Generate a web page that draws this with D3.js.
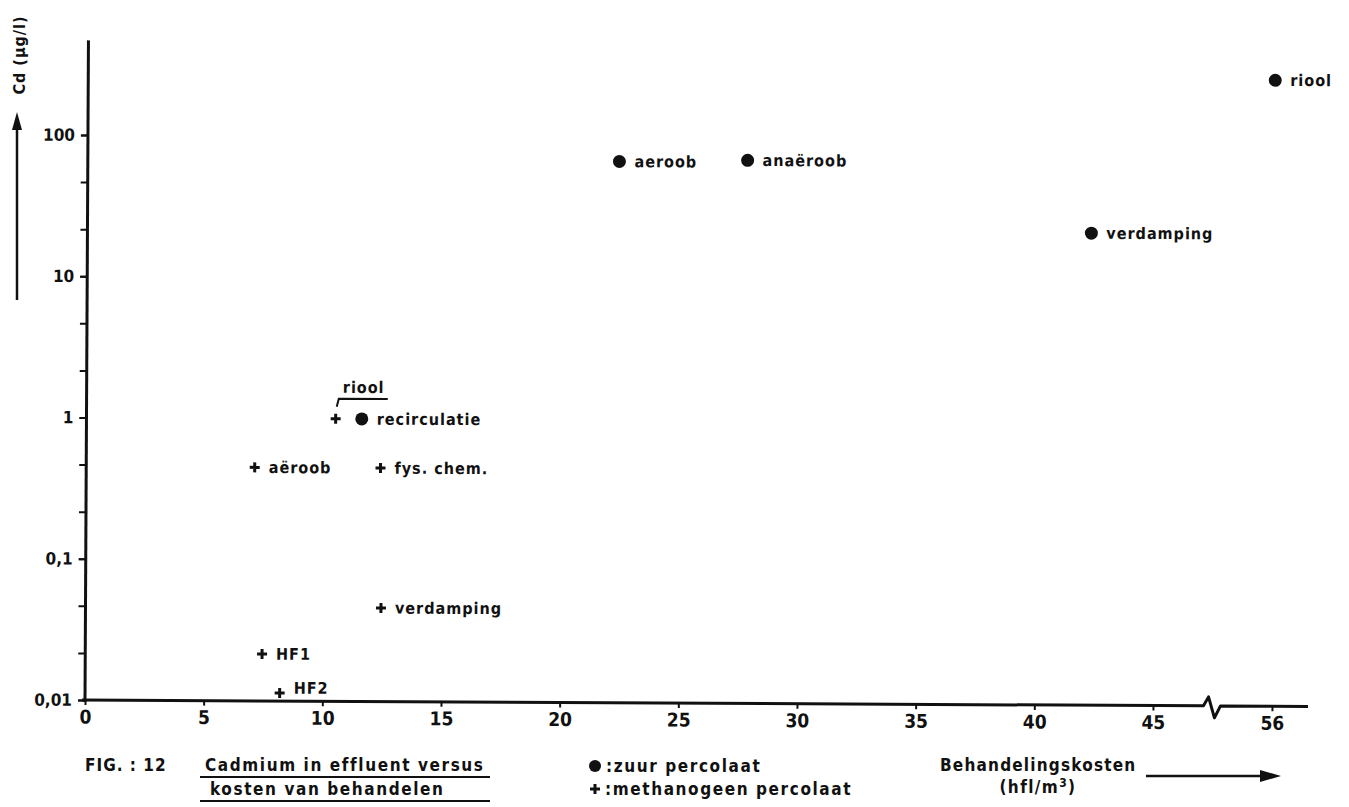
<!DOCTYPE html>
<html><head><meta charset="utf-8">
<script src="https://cdn.jsdelivr.net/npm/d3@7"></script>
<style>
body{margin:0;background:#fff;}
text{font-family:"Liberation Sans Narrow","DejaVu Sans Condensed","DejaVu Sans",sans-serif;font-weight:bold;fill:#111;}
.lbl{font-family:"DejaVu Sans Condensed","DejaVu Sans",sans-serif;font-size:16px;letter-spacing:1px;}
</style></head>
<body>
<script>
// ---- data ----
const zuurNames = ["riool", "recirculatie", "aeroob", "anaëroob", "verdamping"];
const zuurCost  = [56, 11.6, 22.4, 27.8, 42.3];
const zuurCd    = [270, 1.0, 68, 70, 22];

const methNames = ["riool", "aëroob", "fys. chem.", "verdamping", "HF1", "HF2"];
const methCost  = [10.5, 7.1, 12.4, 12.45, 7.45, 8.2];
const methCd    = [1.0, 0.45, 0.45, 0.046, 0.0215, 0.0114];

const xTickValues = [0, 5, 10, 15, 20, 25, 30, 35, 40, 45, 56];
const xTickLabels = ["0", "5", "10", "15", "20", "25", "30", "35", "40", "45", "56"];
const yMajorValues = [0.01, 0.1, 1, 10, 100];
const yMajorLabels = ["0,01", "0,1", "1", "10", "100"];
const yMinorExp = [-2, -5/3, -4/3, -1, -2/3, -1/3, 0, 1/3, 2/3, 1, 4/3, 5/3, 2];

// ---- layout ----
const W = 1349, H = 807;
const svg = d3.select("body").append("svg").attr("width", W).attr("height", H);
const g = svg.append("g").attr("transform", "translate(85,700) rotate(0.3)");

const x = d3.scaleLinear().domain([0, 45, 56]).range([0, 1068, 1187]);
const y = d3.scaleLog().domain([0.01, 100]).range([0, -565]);

// x axis ticks & labels
const xAxis = d3.axisBottom(x).tickValues(xTickValues)
  .tickFormat((d, i) => xTickLabels[i]).tickSize(5).tickPadding(5);
const gx = g.append("g").call(xAxis);
gx.select(".domain").remove();
gx.selectAll(".tick line").attr("stroke", "#111").attr("stroke-width", 2);
gx.selectAll(".tick text").style("font-size", "19px").attr("fill", "#111");

// y axis
const yAxisMinor = d3.axisLeft(y).tickValues(yMinorExp.map(e => Math.pow(10, e)))
  .tickFormat("").tickSize(7);
const gym = g.append("g").call(yAxisMinor);
gym.select(".domain").remove();
gym.selectAll(".tick line").attr("stroke", "#111").attr("stroke-width", 2);

const yAxis = d3.axisLeft(y).tickValues(yMajorValues)
  .tickFormat((d, i) => yMajorLabels[i]).tickSize(7).tickPadding(6);
const gy = g.append("g").call(yAxis);
gy.select(".domain").remove();
gy.selectAll(".tick line").attr("stroke", "#111").attr("stroke-width", 2);
gy.selectAll(".tick text").style("font-size", "17px").attr("fill", "#111");

// axis lines
const yTop = y(Math.pow(10, 2.67));
g.append("line").attr("x1", 0).attr("x2", 0).attr("y1", 2).attr("y2", yTop)
  .attr("stroke", "#111").attr("stroke-width", 3);
const bx = (x(45) + x(56)) / 2;
const xEnd = x(56) + 36;
g.append("path")
  .attr("d", `M-3,0H${bx - 9}L${bx - 4},-9L${bx + 2},12L${bx + 8},0H${xEnd}`)
  .attr("fill", "none").attr("stroke", "#111").attr("stroke-width", 3)
  .attr("stroke-linejoin", "round");

// markers
const zuur = zuurNames.map((n, i) => ({n, c: zuurCost[i], v: zuurCd[i]}));
const meth = methNames.map((n, i) => ({n, c: methCost[i], v: methCd[i]}));

g.selectAll("circle.z").data(zuur).join("circle").attr("class", "z")
  .attr("cx", d => x(d.c)).attr("cy", d => y(d.v)).attr("r", 6.5).attr("fill", "#111");
g.selectAll("text.z").data(zuur).join("text").attr("class", "z lbl")
  .attr("x", d => x(d.c) + 15).attr("y", d => y(d.v)).attr("dy", "0.35em").text(d => d.n);

g.selectAll("path.m").data(meth).join("path").attr("class", "m")
  .attr("transform", d => `translate(${x(d.c)},${y(d.v)})`)
  .attr("d", "M-5,0H5M0,-5V5").attr("stroke", "#111").attr("stroke-width", 3);
g.selectAll("text.m").data(meth.filter(d => d.n !== "riool")).join("text").attr("class", "m lbl")
  .attr("x", d => x(d.c) + 14).attr("y", d => y(d.v) - (d.n === "HF2" ? 5 : 0))
  .attr("dy", "0.35em").text(d => d.n);

// riool (methanogeen) annotation with bracket
const rm = meth.find(d => d.n === "riool");
const rx = x(rm.c), ry = y(rm.v);
g.append("text").attr("class", "lbl").attr("x", rx + 7).attr("y", ry - 26).text("riool");
g.append("path").attr("d", `M${rx + 1},${ry - 12}L${rx + 3},${ry - 20}H${rx + 52}`)
  .attr("fill", "none").attr("stroke", "#111").attr("stroke-width", 2);

// y axis title + arrow
svg.append("text").attr("transform", "translate(25,55) rotate(-90)")
  .attr("text-anchor", "middle").style("font-size", "16px").style("letter-spacing", "1px")
  .text("Cd (μg/l)");
svg.append("line").attr("x1", 17).attr("x2", 17).attr("y1", 300).attr("y2", 125)
  .attr("stroke", "#111").attr("stroke-width", 2.5);
svg.append("path").attr("d", "M17,112L12,130H22Z").attr("fill", "#111");

// caption
const cap = svg.append("g").style("font-size", "17px");
cap.append("text").attr("x", 85).attr("y", 771).style("letter-spacing", "1px").text("FIG. : 12");
cap.append("text").attr("x", 205).attr("y", 771).style("letter-spacing", "1.6px").text("Cadmium in effluent versus");
cap.append("line").attr("x1", 200).attr("x2", 490).attr("y1", 777).attr("y2", 777).attr("stroke", "#111").attr("stroke-width", 2);
cap.append("text").attr("x", 210).attr("y", 795).style("letter-spacing", "1.6px").text("kosten van behandelen");
cap.append("line").attr("x1", 200).attr("x2", 490).attr("y1", 801).attr("y2", 801).attr("stroke", "#111").attr("stroke-width", 2);

// legend
svg.append("circle").attr("cx", 595).attr("cy", 766).attr("r", 6).attr("fill", "#111");
cap.append("text").attr("x", 606).attr("y", 772).style("letter-spacing", "1.6px").text(":zuur percolaat");
svg.append("path").attr("transform", "translate(595,789)").attr("d", "M-5,0H5M0,-5V5")
  .attr("stroke", "#111").attr("stroke-width", 3);
cap.append("text").attr("x", 605).attr("y", 795).style("letter-spacing", "1.6px").text(":methanogeen percolaat");

// x axis title + arrow
cap.append("text").attr("x", 940).attr("y", 771).style("letter-spacing", "1.2px").text("Behandelingskosten");
const t2 = cap.append("text").attr("x", 1038).attr("y", 793).attr("text-anchor", "middle").style("letter-spacing", "1.4px");
t2.append("tspan").text("(hfl/m");
t2.append("tspan").attr("dy", -6).style("font-size", "12px").text("3");
t2.append("tspan").attr("dy", 6).text(")");
svg.append("line").attr("x1", 1146).attr("x2", 1262).attr("y1", 776).attr("y2", 776)
  .attr("stroke", "#111").attr("stroke-width", 2.5);
svg.append("path").attr("d", "M1281,776L1260,770V782Z").attr("fill", "#111");
</script>
</body></html>
